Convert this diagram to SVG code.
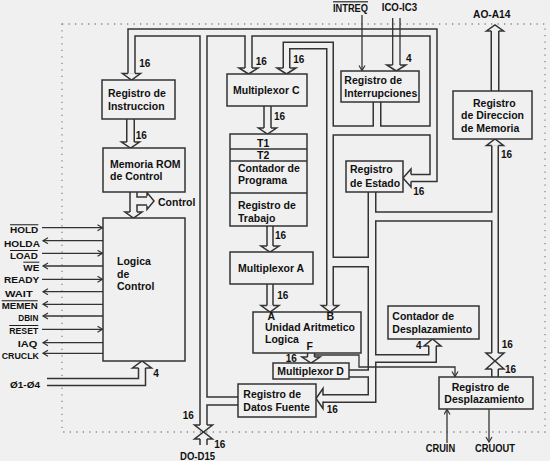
<svg xmlns="http://www.w3.org/2000/svg" width="550" height="461" viewBox="0 0 550 461">
<style>
text{font-family:"Liberation Sans",Arial,sans-serif;font-weight:bold;font-size:10.5px;fill:#111}
.sm{font-size:10px}
.lab{font-size:9.5px}
.ov{text-decoration:overline}
.box{fill:#f0f0f0;stroke:#333;stroke-width:1.5}
.dk{fill:none;stroke:#333;stroke-linejoin:miter;stroke-linecap:butt}
.lt{fill:none;stroke:#f0f0f0;stroke-linejoin:miter;stroke-linecap:butt}
.hd{fill:#f0f0f0;stroke:#333;stroke-width:1.5;stroke-linejoin:miter}
.ln{fill:none;stroke:#333;stroke-width:1.3}
.dot{fill:none;stroke:#888;stroke-width:1.3;stroke-dasharray:1.3 5.2}
</style>
<defs>
<marker id="ar" markerUnits="userSpaceOnUse" markerWidth="8" markerHeight="8" refX="6" refY="3.5" orient="auto" viewBox="0 0 8 8"><path d="M1,0.5 L6,3.5 L1,6.5" fill="none" stroke="#333" stroke-width="1.2"/></marker>
</defs>
<rect width="550" height="461" fill="#f0f0f0"/>
<rect class="dot" x="62" y="24" width="483" height="408"/>

<g id="connectors">
<g class="dk">
<path d="M131.5,73.5 V32.5 H433.5 V178 H411" stroke-width="8.5"/>
<path d="M203.5,32.5 V425" stroke-width="8.5"/>
<path d="M248.5,32.5 V68" stroke-width="8.5"/>
<path d="M286.5,68 V45.5 H330 V305.5" stroke-width="8"/>
<path d="M330,130.5 H433.5" stroke-width="10.5"/>
<path d="M377,102 V130.5" stroke-width="9"/>
<path d="M372,192 V398.5 H323" stroke-width="9"/>
<path d="M330,262 H372" stroke-width="11"/>
<path d="M372,216.5 H495" stroke-width="10.5"/>
<path d="M495,145.5 V353" stroke-width="8"/>
<path d="M372,358.5 H432.5 V346" stroke-width="9"/>
<path d="M349,373.5 H372" stroke-width="8.5"/>
<path d="M238,401 H203.5" stroke-width="9.5"/>
<path d="M267.5,106 V128" stroke-width="8.5"/>
<path d="M270,226 V246" stroke-width="7.5"/>
<path d="M270,284 V305.5" stroke-width="7.5"/>
<path d="M130.5,119 V142" stroke-width="9"/>
<path d="M133.5,192 V212" stroke-width="8.5"/>
<path d="M133.5,201 H147" stroke-width="9.5"/>
<path d="M47,382 H142 V368" stroke-width="8.5"/>
<path d="M311,353 V357" stroke-width="8.5"/>
<path d="M495,91 V31" stroke-width="9"/>
<path d="M495,369 V377" stroke-width="8"/>
<path d="M203.5,439 V445" stroke-width="8.5"/>
</g>
<g class="lt">
<path d="M131.5,73.5 V32.5 H433.5 V178 H411" stroke-width="5.5"/>
<path d="M203.5,32.5 V425" stroke-width="5.5"/>
<path d="M248.5,32.5 V68" stroke-width="5.5"/>
<path d="M286.5,68 V45.5 H330 V305.5" stroke-width="5"/>
<path d="M330,130.5 H433.5" stroke-width="7.5"/>
<path d="M377,102 V130.5" stroke-width="6"/>
<path d="M372,192 V398.5 H323" stroke-width="6"/>
<path d="M330,262 H372" stroke-width="8"/>
<path d="M372,216.5 H495" stroke-width="7.5"/>
<path d="M495,145.5 V353" stroke-width="5"/>
<path d="M372,358.5 H432.5 V346" stroke-width="6"/>
<path d="M349,373.5 H372" stroke-width="5.5"/>
<path d="M238,401 H203.5" stroke-width="6.5"/>
<path d="M267.5,106 V128" stroke-width="5.5"/>
<path d="M270,226 V246" stroke-width="4.5"/>
<path d="M270,284 V305.5" stroke-width="4.5"/>
<path d="M130.5,119 V142" stroke-width="6"/>
<path d="M133.5,192 V212" stroke-width="5.5"/>
<path d="M133.5,201 H147" stroke-width="6.5"/>
<path d="M47,382 H142 V368" stroke-width="5.5"/>
<path d="M311,353 V357" stroke-width="5.5"/>
<path d="M495,91 V31" stroke-width="6"/>
<path d="M495,369 V377" stroke-width="5"/>
<path d="M203.5,439 V445" stroke-width="5.5"/>
</g>
<g class="ln" stroke-width="1.5">
<path d="M392.7,18 V65"/>
<path d="M400,18 V65"/>
</g>
<g class="hd">
<path d="M128,73.5 H122.5 L131.5,80 L140.5,73.5 H135"/>
<path d="M245,68 H239 L248.5,74 L258,68 H252"/>
<path d="M283.25,68 H277 L286.5,74 L296,68 H289.75"/>
<path d="M126.75,142 H121.5 L130.5,148 L139.5,142 H134.25"/>
<path d="M130,212 H125 L133.5,218 L142,212 H137"/>
<path d="M147,196.25 V192.5 L154,201 L147,209.5 V205.75"/>
<path d="M264,128 H258.5 L267.5,134 L276.5,128 H271"/>
<path d="M267,246 H261 L270,252 L279,246 H273"/>
<path d="M267,305.5 H261 L270,312 L279,305.5 H273"/>
<path d="M326.75,305.5 H321.5 L330,312 L338.5,305.5 H333.25"/>
<path d="M307.5,357 H302 L311,363 L320,357 H314.5"/>
<path d="M411,174.5 V169 L403,178 L411,187 V181.5"/>
<path d="M323,395.5 V388.5 L316,398.5 L323,408.5 V401.5"/>
<path d="M138.5,368 H132.5 L142,361 L151.5,368 H145.5"/>
<path d="M429,346 H424 L432.5,339 L441,346 H436"/>
<path d="M491.75,145.5 H486.5 L495,139 L503.5,145.5 H498.25"/>
<path d="M491.25,31 H486.5 L495,25 L503.5,31 H498.75"/>
<path d="M200,425 H194.5 L203.5,432 L212.5,425 H207"/>
<path d="M200,439 H194.5 L203.5,432 L212.5,439 H207"/>
<path d="M491.75,353 H486 L495,361 L504,353 H498.25"/>
<path d="M491.75,369 H486 L495,361 L504,369 H498.25"/>
<path d="M392.65,65 H386.8 L396.3,71 L405.8,65 H399.95"/>
</g>
<g class="ln" marker-end="url(#ar)">
<path d="M42,227.7 H102.5"/>
<path d="M103,240.7 H43"/>
<path d="M42,253.3 H102.5"/>
<path d="M103,266 H43"/>
<path d="M42,279.3 H102.5"/>
<path d="M103,291.7 H43"/>
<path d="M103,304.3 H43"/>
<path d="M103,316 H43"/>
<path d="M42,329.3 H102.5"/>
<path d="M103,342.7 H43"/>
<path d="M103,353.3 H43"/>
<path d="M362,15 V70.5"/>
<path d="M314.5,355 H359 V367 H455 V376.5"/>
<path d="M447,443 V409.5"/>
<path d="M489,409 V442"/>
</g>
</g>

<g id="reg-instruccion"><rect class="box" x="102" y="80" width="73" height="39"/><text x="108" y="97">Registro de</text><text x="108" y="109.5">Instruccion</text></g>
<g id="memoria-rom"><rect class="box" x="103" y="148" width="82" height="44"/><text x="110" y="167.7">Memoria ROM</text><text x="110" y="179.5">de Control</text></g>
<g id="logica-control"><rect class="box" x="103" y="218" width="82" height="143"/><text x="117" y="265">Logica</text><text x="117" y="277.7">de</text><text x="117" y="290">Control</text></g>
<g id="mux-c"><rect class="box" x="227" y="74" width="80" height="32"/><text x="233" y="94.3">Multiplexor C</text></g>
<g id="registros"><rect class="box" x="230" y="134" width="77" height="92"/><path class="ln" stroke-width="1.5" d="M230,149 H307 M230,161 H307 M230,193 H307"/><text x="257" y="146.7">T1</text><text x="257" y="158.5">T2</text><text x="238" y="171.7">Contador de</text><text x="238" y="184">Programa</text><text x="238" y="209">Registro  de</text><text x="238" y="221.7">Trabajo</text></g>
<g id="mux-a"><rect class="box" x="230" y="252" width="83" height="32"/><text x="238" y="271.7">Multiplexor A</text></g>
<g id="alu"><rect class="box" x="253" y="312" width="108" height="41"/><text x="267.5" y="320">A</text><text x="326.5" y="320">B</text><text x="265" y="331">Unidad Aritmetico</text><text x="265" y="343.3">Logica</text><text x="306.5" y="350">F</text></g>
<g id="mux-d"><rect class="box" x="273" y="363" width="76" height="16"/><text x="277.3" y="375">Multiplexor D</text></g>
<g id="reg-datos-fuente"><rect class="box" x="238" y="384" width="78" height="33"/><text x="243.3" y="398.3">Registro de</text><text x="243.3" y="410.7">Datos Fuente</text></g>
<g id="reg-interrupciones"><rect class="box" x="341" y="71" width="78" height="31"/><text x="344.3" y="84.3">Registro de</text><text x="344.3" y="96.7">Interrupciones</text></g>
<g id="reg-estado"><rect class="box" x="346" y="161" width="57" height="31"/><text x="350" y="173.3">Registro</text><text x="350" y="186.7">de Estado</text></g>
<g id="reg-direccion"><rect class="box" x="453" y="91" width="79" height="48"/><text x="473" y="106.7">Registro</text><text x="461" y="119.3">de Direccion</text><text x="461" y="131.7">de Memoria</text></g>
<g id="contador-desp"><rect class="box" x="388" y="306" width="91" height="33"/><text x="392.3" y="320">Contador de</text><text x="392.3" y="332.7">Desplazamiento</text></g>
<g id="reg-desp"><rect class="box" x="439" y="377" width="94" height="32"/><text x="451.7" y="390.7">Registro de</text><text x="444.3" y="402.7">Desplazamiento</text></g>

<g id="labels">
<text class="sm" x="139.3" y="66.7">16</text>
<text class="sm" x="135.7" y="139.3">16</text>
<text x="158" y="206">Control</text>
<text class="sm" x="255.7" y="65">16</text>
<text class="sm" x="293.3" y="63.3">16</text>
<text class="sm" x="274" y="120">16</text>
<text class="sm" x="275" y="239.3">16</text>
<text class="sm" x="277.3" y="299">16</text>
<text class="sm" x="285.7" y="361.7">16</text>
<text class="sm" x="326.7" y="413.3">16</text>
<text class="sm" x="406" y="62.3">4</text>
<text class="sm" x="413.3" y="195">16</text>
<text class="sm" x="501" y="158.3">16</text>
<text class="sm" x="416" y="349.3">4</text>
<text class="sm" x="501.7" y="347.7">16</text>
<text class="sm" x="505" y="372.7">16</text>
<text class="sm" x="182.7" y="419.3">16</text>
<text class="sm" x="214.3" y="448.3">16</text>
<text class="sm" x="153.3" y="377.3">4</text>
<text class="ov" x="333" y="12.3" textLength="35" lengthAdjust="spacingAndGlyphs">INTREQ</text>
<text x="381.7" y="10.5" textLength="35.5" lengthAdjust="spacingAndGlyphs">ICO-IC3</text>
<text x="473" y="18.3" textLength="37.5" lengthAdjust="spacingAndGlyphs">AO-A14</text>
<text x="180" y="460" textLength="35" lengthAdjust="spacingAndGlyphs">DO-D15</text>
<text x="425.7" y="451.7" textLength="29.5" lengthAdjust="spacingAndGlyphs">CRUIN</text>
<text x="475" y="451.7" textLength="40" lengthAdjust="spacingAndGlyphs">CRUOUT</text>
<text class="lab ov" x="10" y="233.3" textLength="28.3" lengthAdjust="spacingAndGlyphs">HOLD</text>
<text class="lab" x="4" y="246.7" textLength="36" lengthAdjust="spacingAndGlyphs">HOLDA</text>
<text class="lab ov" x="10" y="259" textLength="27.7" lengthAdjust="spacingAndGlyphs">LOAD</text>
<text class="lab ov" x="23.3" y="270.7" textLength="16" lengthAdjust="spacingAndGlyphs">WE</text>
<text class="lab" x="4" y="283.3" textLength="35.3" lengthAdjust="spacingAndGlyphs">READY</text>
<text class="lab" x="5" y="296.7" textLength="27.7" lengthAdjust="spacingAndGlyphs">WAIT</text>
<text class="lab ov" x="1.7" y="309.3" textLength="36" lengthAdjust="spacingAndGlyphs">MEMEN</text>
<text class="lab" x="18.3" y="320.7" textLength="20" lengthAdjust="spacingAndGlyphs">DBIN</text>
<text class="lab ov" x="9.3" y="334" textLength="29" lengthAdjust="spacingAndGlyphs">RESET</text>
<text class="lab" x="17.7" y="346.7" textLength="19.6" lengthAdjust="spacingAndGlyphs">IAQ</text>
<text class="lab" x="1.7" y="359.3" textLength="37.3" lengthAdjust="spacingAndGlyphs">CRUCLK</text>
<text class="lab" x="10" y="388.3" textLength="30" lengthAdjust="spacingAndGlyphs">Ø1-Ø4</text>
</g>
</svg>
